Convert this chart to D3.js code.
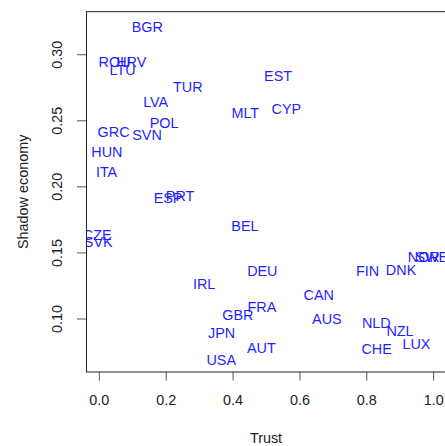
<!DOCTYPE html>
<html>
<head>
<meta charset="utf-8">
<script src="https://cdn.jsdelivr.net/npm/d3@7"></script>
<style>
  body { margin: 0; background: #fff; }
  svg { display: block; font-family: "Liberation Sans", Arial, sans-serif; }
</style>
</head>
<body>
<div id="chart"></div>
<script>
const countries = ["BGR", "ROU", "HRV", "LTU", "EST", "TUR", "LVA", "MLT", "CYP", "POL",
  "GRC", "SVN", "HUN", "ITA", "PRT", "ESP", "BEL", "CZE", "SVK", "NOR", "SWE", "DEU",
  "FIN", "DNK", "IRL", "CAN", "FRA", "GBR", "AUS", "NLD", "NZL", "JPN", "LUX", "AUT",
  "CHE", "USA"];
const trust = [0.145, 0.047, 0.097, 0.071, 0.536, 0.266, 0.170, 0.438, 0.561, 0.195,
  0.044, 0.144, 0.024, 0.023, 0.243, 0.207, 0.437, -0.005, -0.002, 0.972, 0.996, 0.489,
  0.804, 0.904, 0.315, 0.658, 0.488, 0.416, 0.682, 0.830, 0.901, 0.367, 0.950, 0.486,
  0.831, 0.366];
const shadow = [0.321, 0.294, 0.294, 0.288, 0.284, 0.275, 0.264, 0.256, 0.259, 0.248,
  0.241, 0.239, 0.226, 0.211, 0.193, 0.191, 0.170, 0.163, 0.158, 0.147, 0.147, 0.136,
  0.136, 0.137, 0.126, 0.118, 0.109, 0.103, 0.100, 0.097, 0.091, 0.089, 0.081, 0.078,
  0.077, 0.069];
const xTicks = [0, 0.2, 0.4, 0.6, 0.8, 1.0];
const yTicks = [0.10, 0.15, 0.20, 0.25, 0.30];

const width = 445, height = 446;
const fontSize = 14.4;

const x = d3.scaleLinear().domain([-0.037, 1.037]).range([86.5, 445.5]);
const y = d3.scaleLinear().domain([0.0595, 0.3322]).range([372, 11.7]);

const svg = d3.select("#chart").append("svg")
    .attr("width", width)
    .attr("height", height);

svg.append("defs").append("clipPath")
    .attr("id", "plot-clip")
  .append("rect")
    .attr("x", x.range()[0])
    .attr("y", y.range()[1])
    .attr("width", x.range()[1] - x.range()[0])
    .attr("height", y.range()[0] - y.range()[1]);

// labels, clipped to the plot region like R's text()
svg.append("g")
    .attr("clip-path", "url(#plot-clip)")
  .selectAll("text")
  .data(countries)
  .join("text")
    .attr("x", (d, i) => x(trust[i]))
    .attr("y", (d, i) => y(shadow[i]))
    .attr("dy", "0.36em")
    .attr("text-anchor", "middle")
    .attr("fill", "#1f1fff")
    .style("font-size", fontSize + "px")
    .text(d => d);

// x axis
const xAxis = svg.append("g")
    .attr("transform", `translate(0,${y.range()[0]})`)
    .call(d3.axisBottom(x).tickValues(xTicks).tickSize(8.5).tickPadding(14).tickFormat(d3.format(".1f")));
xAxis.select(".domain").remove();
xAxis.selectAll("line").attr("stroke", "#555");
xAxis.selectAll("text").attr("fill", "#222").style("font-size", fontSize + "px").style("font-family", "inherit");

// y axis, labels rotated as in R
const yAxis = svg.append("g")
    .attr("transform", `translate(${x.range()[0]},0)`)
    .call(d3.axisLeft(y).tickValues(yTicks).tickSize(9.5).tickFormat(d3.format(".2f")));
yAxis.select(".domain").remove();
yAxis.selectAll("line").attr("stroke", "#555");
yAxis.selectAll("text")
    .attr("fill", "#222")
    .attr("x", null)
    .attr("dy", null)
    .attr("text-anchor", "middle")
    .attr("transform", "translate(-29.5,0) rotate(-90)")
    .attr("dy", "0.36em")
    .style("font-size", fontSize + "px")
    .style("font-family", "inherit");

// plot box
svg.append("rect")
    .attr("x", x.range()[0])
    .attr("y", y.range()[1])
    .attr("width", x.range()[1] - x.range()[0])
    .attr("height", y.range()[0] - y.range()[1])
    .attr("fill", "none")
    .attr("stroke", "#222")
    .attr("stroke-width", 1);

svg.append("text")
    .attr("x", (x.range()[0] + x.range()[1]) / 2)
    .attr("y", 437.5)
    .attr("dy", "0.36em")
    .attr("text-anchor", "middle")
    .attr("fill", "#222")
    .style("font-size", fontSize + "px")
    .text("Trust");

svg.append("text")
    .attr("transform", `translate(23,${(y.range()[0] + y.range()[1]) / 2}) rotate(-90)`)
    .attr("dy", "0.36em")
    .attr("text-anchor", "middle")
    .attr("fill", "#222")
    .style("font-size", fontSize + "px")
    .text("Shadow economy");
</script>
</body>
</html>
